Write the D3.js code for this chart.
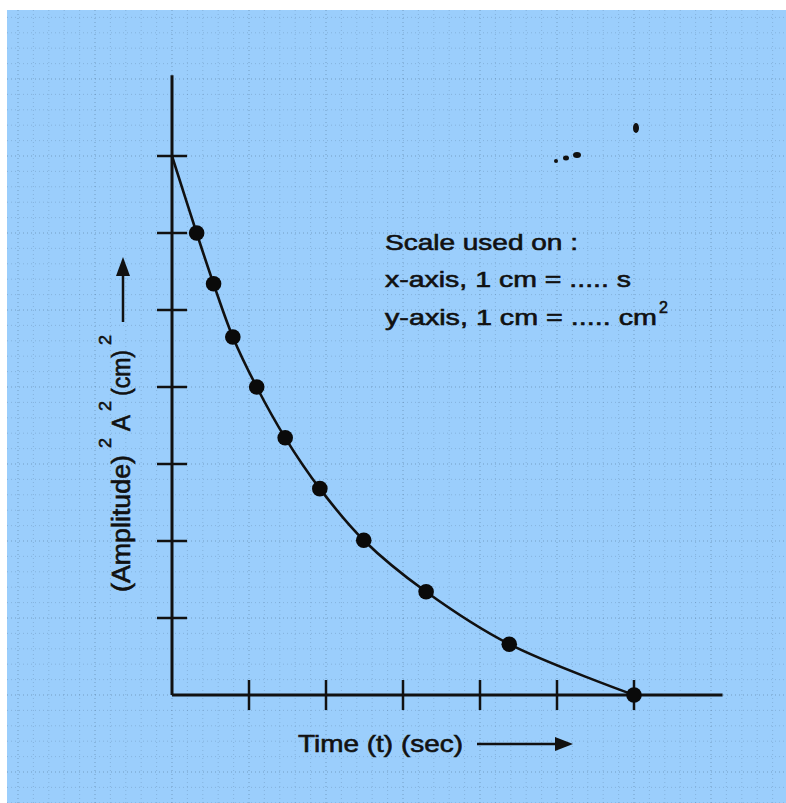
<!DOCTYPE html>
<html>
<head>
<meta charset="utf-8">
<script src="https://cdn.jsdelivr.net/npm/d3@7"></script>
<style>
  body { margin: 0; background: #ffffff; }
  svg { display: block; }
  text { font-family: "Liberation Sans", Arial, Helvetica, sans-serif; fill: #111; stroke: #111; stroke-width: 0.6; }
</style>
</head>
<body>
<svg width="786" height="803"></svg>
<script>
var svg = d3.select('svg');

//time values (x axis, in cm of graph paper)
var timeValues = [0, 0.32, 0.54, 0.79, 1.10, 1.47, 1.92, 2.49, 3.30, 4.38, 6.0];
//amplitude squared values (y axis)
var ampValues = [7, 6.0, 5.34, 4.65, 4.0, 3.34, 2.68, 2.01, 1.34, 0.66, 0];
//which of the points get a dot (the first one is only where the curve starts)
var hasDot = [false, true, true, true, true, true, true, true, true, true, true];

//tick positions on both axes
var xTicks = [1, 2, 3, 4, 5, 6];
var yTicks = [1, 2, 3, 4, 5, 6, 7];

//text in the box
var scaleLines = ['Scale used on :', 'x-axis, 1 cm = ..... s', 'y-axis, 1 cm = ..... cm'];

var points = timeValues.map(function(t, i){
    return {t: t, a: ampValues[i], dot: hasDot[i]};
});

var x = d3.scaleLinear().domain([0, 6]).range([172, 634]);
var y = d3.scaleLinear().domain([0, 7]).range([695, 156]);

//light blue paper, leaving the white scan edge at top and left
svg.append('rect')
    .attr('x', 7).attr('y', 10)
    .attr('width', 786 - 7).attr('height', 803 - 10)
    .attr('fill', '#9bcefc');

//faint graph paper lines, five to a cm
var grid = svg.append('g').attr('class', 'grid');
d3.range(-10, 41).forEach(function(k){
    var px = x(k / 5);
    if(px < 8 || px > 786) return;
    grid.append('line')
        .attr('x1', px).attr('x2', px)
        .attr('y1', 10).attr('y2', 803)
        .attr('stroke', '#203a55')
        .attr('stroke-opacity', k % 5 == 0 ? 0.32 : 0.18)
        .attr('stroke-width', 1)
        .attr('stroke-dasharray', '1 3');
});
d3.range(-10, 46).forEach(function(k){
    var py = y(k / 5);
    if(py < 11 || py > 803) return;
    grid.append('line')
        .attr('x1', 7).attr('x2', 786)
        .attr('y1', py).attr('y2', py)
        .attr('stroke', '#203a55')
        .attr('stroke-opacity', k % 5 == 0 ? 0.32 : 0.18)
        .attr('stroke-width', 1)
        .attr('stroke-dasharray', '1 3');
});

//axes
svg.append('line')
    .attr('x1', x(0)).attr('x2', x(0))
    .attr('y1', y(0)).attr('y2', y(8.05))
    .attr('stroke', '#111').attr('stroke-width', 3);
svg.append('line')
    .attr('x1', x(0)).attr('x2', x(7.15))
    .attr('y1', y(0)).attr('y2', y(0))
    .attr('stroke', '#111').attr('stroke-width', 3);

//tick marks cross the axes
svg.selectAll('.xtick')
    .data(xTicks)
    .enter()
    .append('line')
    .attr('class', 'xtick')
    .attr('x1', function(d){ return x(d); })
    .attr('x2', function(d){ return x(d); })
    .attr('y1', y(0) - 15).attr('y2', y(0) + 15)
    .attr('stroke', '#111').attr('stroke-width', 2.5);

svg.selectAll('.ytick')
    .data(yTicks)
    .enter()
    .append('line')
    .attr('class', 'ytick')
    .attr('x1', x(0) - 15).attr('x2', x(0) + 15)
    .attr('y1', function(d){ return y(d); })
    .attr('y2', function(d){ return y(d); })
    .attr('stroke', '#111').attr('stroke-width', 2.5);

//smooth curve through the points
var line = d3.line()
    .x(function(d){ return x(d.t); })
    .y(function(d){ return y(d.a); })
    .curve(d3.curveCatmullRom.alpha(0.5));

svg.append('path')
    .datum(points)
    .attr('d', line)
    .attr('fill', 'none')
    .attr('stroke', '#111')
    .attr('stroke-width', 2.6);

svg.selectAll('.dataPoints')
    .data(points.filter(function(d){ return d.dot; }))
    .enter()
    .append('circle')
    .attr('class', 'dataPoints')
    .attr('cx', function(d){ return x(d.t); })
    .attr('cy', function(d){ return y(d.a); })
    .attr('r', 7.8)
    .attr('fill', '#0a0a0a');

//scale note
var note = [
    {txt: scaleLines[0], base: 250, len: 193},
    {txt: scaleLines[1], base: 287, len: 246},
    {txt: scaleLines[2], base: 325, len: 272}
];
note.forEach(function(n){
    svg.append('text')
        .attr('x', 385).attr('y', n.base)
        .attr('font-size', 22)
        .attr('textLength', n.len)
        .attr('lengthAdjust', 'spacingAndGlyphs')
        .text(n.txt);
});
svg.append('text')
    .attr('x', 659).attr('y', 313)
    .attr('font-size', 16)
    .text('2');

//x axis title with arrow
svg.append('text')
    .attr('x', 298).attr('y', 752)
    .attr('font-size', 24)
    .attr('textLength', 165)
    .attr('lengthAdjust', 'spacingAndGlyphs')
    .text('Time (t) (sec)');
svg.append('line')
    .attr('x1', 477).attr('x2', 560)
    .attr('y1', 744).attr('y2', 744)
    .attr('stroke', '#111').attr('stroke-width', 2.5);
svg.append('path')
    .attr('d', 'M573,744 L555,737 L555,751 Z')
    .attr('fill', '#111');

//y axis title, rotated, built piece by piece
var yPieces = [
    {txt: '(Amplitude)', at: 0, len: 137, size: 25, shift: 0},
    {txt: '2', at: 144, len: 10, size: 16, shift: -19},
    {txt: 'A', at: 161, len: 16, size: 25, shift: 0},
    {txt: '2', at: 181, len: 10, size: 16, shift: -19},
    {txt: '(cm)', at: 196, len: 46, size: 25, shift: 0},
    {txt: '2', at: 247, len: 10, size: 16, shift: -19}
];
var yTitle = svg.append('g').attr('transform', 'translate(130,592) rotate(-90)');
yPieces.forEach(function(p){
    yTitle.append('text')
        .attr('x', p.at).attr('y', p.shift)
        .attr('font-size', p.size)
        .attr('textLength', p.len)
        .attr('lengthAdjust', 'spacingAndGlyphs')
        .text(p.txt);
});
svg.append('line')
    .attr('x1', 123).attr('x2', 123)
    .attr('y1', 322).attr('y2', 272)
    .attr('stroke', '#111').attr('stroke-width', 2.5);
svg.append('path')
    .attr('d', 'M123,257 L116,276 L130,276 Z')
    .attr('fill', '#111');

//a few ink specks from the scan
var specks = [[636, 128, 3, 5], [577, 155, 4, 3], [566, 158, 3, 2.5], [556, 161, 2, 2]];
specks.forEach(function(s){
    svg.append('ellipse')
        .attr('cx', s[0]).attr('cy', s[1])
        .attr('rx', s[2]).attr('ry', s[3])
        .attr('fill', '#111');
});
</script>
</body>
</html>
